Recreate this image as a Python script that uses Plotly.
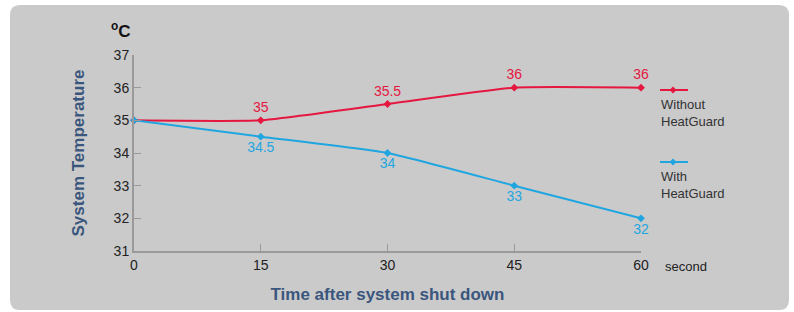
import plotly.graph_objects as go

times = [0, 15, 30, 45, 60]
without_hg = [35, 35, 35.5, 36, 36]
with_hg = [35, 34.5, 34, 33, 32]
without_labels = ["", "35", "35.5", "36", "36"]
with_labels = ["", "34.5", "34", "33", "32"]
y_ticks = [31, 32, 33, 34, 35, 36, 37]
x_ticks = [0, 15, 30, 45, 60]

RED = "#e5173f"
BLUE = "#1fa6e0"
W, H = 794, 312
L, R, T, B = 134, 153, 55, 61
pw, ph = W - L - R, H - T - B

def px(x):
    return (x - L) / pw

def py(y):
    return (H - B - y) / ph

fig = go.Figure()
fig.add_trace(go.Scatter(x=times, y=without_hg, mode="lines+markers+text",
                         line=dict(color=RED, width=2, shape="spline", smoothing=0.45),
                         marker=dict(symbol="diamond", size=6, color=RED),
                         text=without_labels, textposition="top center",
                         textfont=dict(color=RED, size=14, family="Liberation Sans"),
                         showlegend=False, cliponaxis=False, hoverinfo="skip"))
fig.add_trace(go.Scatter(x=times, y=with_hg, mode="lines+markers+text",
                         line=dict(color=BLUE, width=2, shape="spline", smoothing=0.45),
                         marker=dict(symbol="diamond", size=6, color=BLUE),
                         text=with_labels, textposition="bottom center",
                         textfont=dict(color=BLUE, size=14, family="Liberation Sans"),
                         showlegend=False, cliponaxis=False, hoverinfo="skip"))

# rounded grey panel
x0, x1, y0, y1 = px(10), px(789), py(310), py(5)
rx, ry = 10 / pw, 10 / ph
path = (f"M {x0+rx},{y1} L {x1-rx},{y1} Q {x1},{y1} {x1},{y1-ry} "
        f"L {x1},{y0+ry} Q {x1},{y0} {x1-rx},{y0} L {x0+rx},{y0} "
        f"Q {x0},{y0} {x0},{y0+ry} L {x0},{y1-ry} Q {x0},{y1} {x0+rx},{y1} Z")
shapes = [dict(type="path", path=path, xref="paper", yref="paper",
               fillcolor="#cacacb", line=dict(width=0), layer="below")]

# custom legend
legend_items = [("Without<br>HeatGuard", RED, 90), ("With<br>HeatGuard", BLUE, 162)]
annotations = []
for label, col, ly in legend_items:
    shapes.append(dict(type="line", xref="paper", yref="paper",
                       x0=px(660), x1=px(688), y0=py(ly), y1=py(ly),
                       line=dict(color=col, width=2)))
    d = 3.5
    cx = 673
    shapes.append(dict(type="path", xref="paper", yref="paper",
                       path=f"M {px(cx)},{py(ly-d)} L {px(cx+d)},{py(ly)} L {px(cx)},{py(ly+d)} L {px(cx-d)},{py(ly)} Z",
                       fillcolor=col, line=dict(width=0)))
    annotations.append(dict(text=label, xref="paper", yref="paper",
                            x=px(659), y=py(ly + 5), xanchor="left", yanchor="top",
                            align="left", showarrow=False,
                            font=dict(size=13, color="#333333", family="Liberation Sans")))

annotations.append(dict(text="<b><sup style='font-size:13px'>o</sup>C</b>", xref="paper", yref="paper",
                        x=px(121), y=py(30), xanchor="center", yanchor="middle",
                        showarrow=False,
                        font=dict(size=17, color="#111111", family="Liberation Sans")))
annotations.append(dict(text="second", xref="paper", yref="paper",
                        x=px(663), y=py(266), xanchor="left", yanchor="middle",
                        showarrow=False,
                        font=dict(size=13, color="#222222", family="Liberation Sans")))

fig.update_layout(
    width=W, height=H,
    margin=dict(l=L, r=R, t=T, b=B),
    paper_bgcolor="white", plot_bgcolor="rgba(0,0,0,0)",
    shapes=shapes, annotations=annotations,
    font=dict(family="Liberation Sans", color="#333333", size=14),
    xaxis=dict(range=[0, 60], tickvals=x_ticks, ticks="inside", ticklen=7,
               tickcolor="#9a9a9a", showline=True, linecolor="#9a9a9a", linewidth=2,
               showgrid=False, zeroline=False,
               tickfont=dict(size=14, color="#222222"),
               title=dict(text="<b>Time after system shut down</b>",
                          font=dict(size=17, color="#3a567d"), standoff=16)),
    yaxis=dict(range=[31, 37], tickvals=y_ticks, ticks="inside", ticklen=7,
               tickcolor="#9a9a9a", showline=True, linecolor="#9a9a9a", linewidth=2,
               showgrid=False, zeroline=False,
               tickfont=dict(size=14, color="#222222"),
               title=dict(text="<b>System Temperature</b>",
                          font=dict(size=17, color="#3a567d"), standoff=25)),
)

fig.write_html("out.html", config={"displayModeBar": False},
               post_script="document.body.style.margin='0';")
